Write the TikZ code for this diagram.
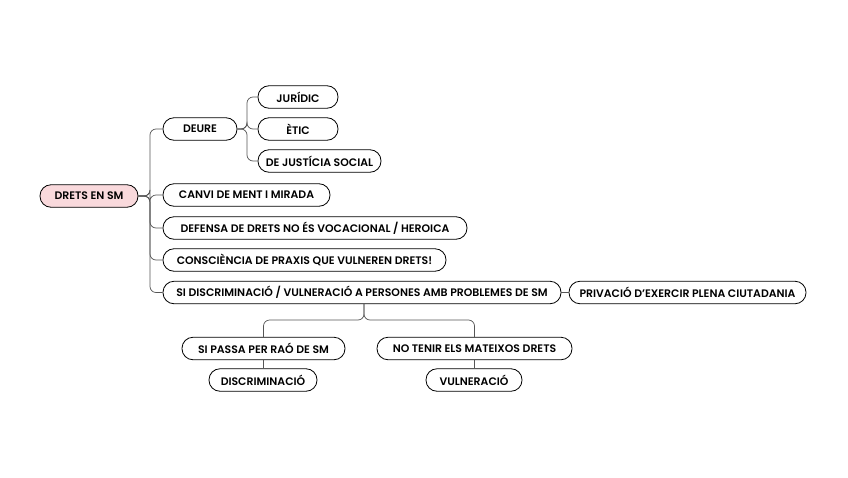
\documentclass[tikz,border=0pt]{standalone}
\usepackage{fontspec}
\setmainfont{Poppins}[BoldFont={Poppins SemiBold}]
\usetikzlibrary{calc}
\definecolor{rootfill}{HTML}{F9D9DC}
\definecolor{linec}{HTML}{555555}
\tikzset{
  box/.style={draw=black, line width=0.8pt, rounded corners=11pt, minimum height=22.5pt, inner sep=0pt, font=\fontsize{10.9}{12}\selectfont\bfseries, text=black},
  link/.style={draw=linec, line width=0.7pt, rounded corners=6pt},
}
\begin{document}
\begin{tikzpicture}[x=1pt,y=-1pt]
\useasboundingbox (0,0) rectangle (848,477);
\node[box, fill=rootfill, minimum width=98pt] (root) at (89,196) {DRETS EN SM};
\node[box, minimum width=74pt] (deure) at (200,129) {DEURE};
\node[box, minimum width=80pt] (jur) at (298,97) {JURÍDIC};
\node[box, minimum width=80pt] (etic) at (298,129) {ÈTIC};
\node[box, minimum width=123pt] (just) at (319.5,161) {DE JUSTÍCIA SOCIAL};
\node[box, minimum width=167pt] (canvi) at (246.5,195) {CANVI DE MENT I MIRADA};
\node[box, minimum width=304pt] (def) at (315,228) {DEFENSA DE DRETS NO ÉS VOCACIONAL / HEROICA};
\node[box, minimum width=283pt] (cons) at (304.5,260) {CONSCIÈNCIA DE PRAXIS QUE VULNEREN DRETS!};
\node[box, minimum width=398pt] (si) at (362,292.5) {SI DISCRIMINACIÓ / VULNERACIÓ A PERSONES AMB PROBLEMES DE SM};
\node[box, minimum width=237pt] (priv) at (687.5,292.5) {PRIVACIÓ D’EXERCIR PLENA CIUTADANIA};
\node[box, minimum width=163pt] (passa) at (263.5,348.5) {SI PASSA PER RAÓ DE SM};
\node[box, minimum width=195pt] (tenir) at (474.5,348.5) {NO TENIR ELS MATEIXOS DRETS};
\node[box, minimum width=108pt] (disc) at (263,380) {DISCRIMINACIÓ};
\node[box, minimum width=96pt] (vuln) at (474,380) {VULNERACIÓ};
\coordinate (t1) at (150,196);
\coordinate (t2) at (247,129);
\coordinate (j) at (364,320);
\foreach \c in {deure,canvi,def,cons,si}{
  \draw[link] (root.east) -- (t1) |- (\c.west);
}
\foreach \c in {jur,etic,just}{
  \draw[link] (deure.east) -- (t2) |- (\c.west);
}
\draw[link] (si.east) -- (priv.west);
\draw[link] (si.south -| j) -- (j) -| (passa.north);
\draw[link] (si.south -| j) -- (j) -| (tenir.north);
\draw[link] (passa.south -| disc.north) -- (disc.north);
\draw[link] (tenir.south -| vuln.north) -- (vuln.north);
\end{tikzpicture}
\end{document}
